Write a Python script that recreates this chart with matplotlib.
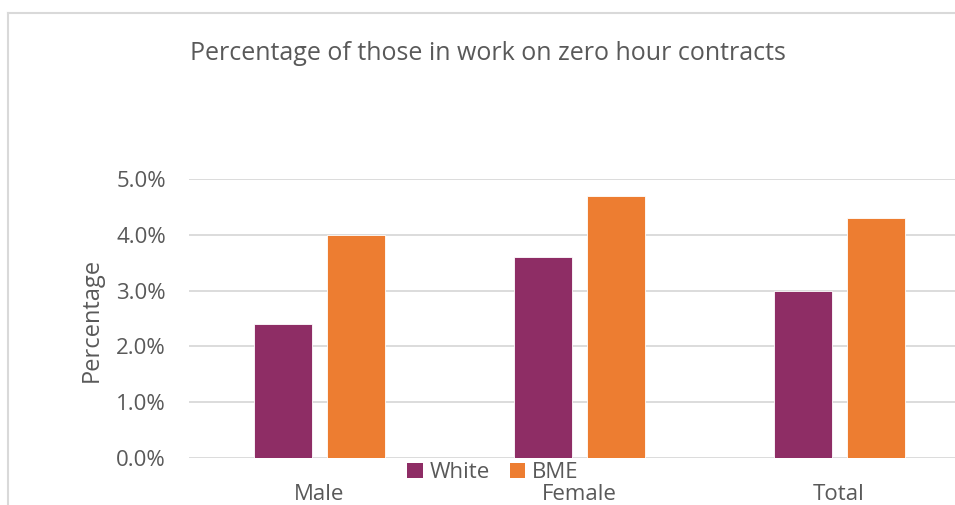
import matplotlib
matplotlib.use("Agg")
import matplotlib.pyplot as plt
from matplotlib.lines import Line2D
from matplotlib.patches import Patch
from matplotlib.ticker import FuncFormatter
import numpy as np

categories = ["Male", "Female", "Total"]
white = [2.4, 3.6, 3.0]
bme = [4.0, 4.7, 4.3]
series_names = ["White", "BME"]
title = "Percentage of those in work on zero hour contracts"
ylabel = "Percentage"

W, H = 955, 505
fig = plt.figure(figsize=(W / 100, H / 100), dpi=100)
plt.rcParams['font.family'] = ['Open Sans', 'DejaVu Sans']

col_w = "#8E2D65"
col_b = "#ED7D31"
txt = "#595959"
grid = "#D9D9D9"

left, right = 189, 969
top, bottom = 179, 458
ax = fig.add_axes([left / W, 1 - bottom / H, (right - left) / W, (bottom - top) / H])

x = np.arange(len(categories))
bw = 58 / 260
gap = 15 / 260
ax.bar(x - (bw + gap) / 2, white, width=bw, color=col_w, edgecolor="white", linewidth=0.6, zorder=3)
ax.bar(x + (bw + gap) / 2, bme, width=bw, color=col_b, edgecolor="white", linewidth=0.6, zorder=3)

ax.set_xlim(-0.5, len(categories) - 0.5)
ax.set_ylim(0, 5.0)
ax.set_yticks(np.arange(0, 5.01, 1.0))
ax.yaxis.set_major_formatter(FuncFormatter(lambda v, p: f"{v:.1f}%"))
ax.grid(axis="y", color=grid, linewidth=1.3, zorder=0)
for s in ax.spines.values():
    s.set_visible(False)
ax.tick_params(axis="both", length=0, colors=txt, labelsize=16)
ax.tick_params(axis="y", pad=16.5)
ax.set_xticks(x)
ax.set_xticklabels(categories)
ax.tick_params(axis="x", pad=19)

fig.text(92 / W, 1 - 320 / H, ylabel, rotation=90, ha="center", va="center", color=txt, fontsize=17)
fig.text(488 / W, 1 - 54 / H, title, ha="center", va="center", color=txt, fontsize=18)

handles = [Patch(facecolor=col_w), Patch(facecolor=col_b)]
fig.legend(handles, series_names, loc="center", bbox_to_anchor=(493 / W, 1 - 473 / H),
           ncol=2, frameon=False, fontsize=16, labelcolor=txt, handlelength=0.68,
           handleheight=0.68, handletextpad=0.32, columnspacing=0.9, borderpad=0)

fig.add_artist(Line2D([8 / W, 8 / W], [0, 1 - 13 / H], transform=fig.transFigure, color=grid, linewidth=1.5))
fig.add_artist(Line2D([8 / W, 1], [1 - 13 / H, 1 - 13 / H], transform=fig.transFigure, color=grid, linewidth=1.5))

fig.savefig("out.png", dpi=100)
